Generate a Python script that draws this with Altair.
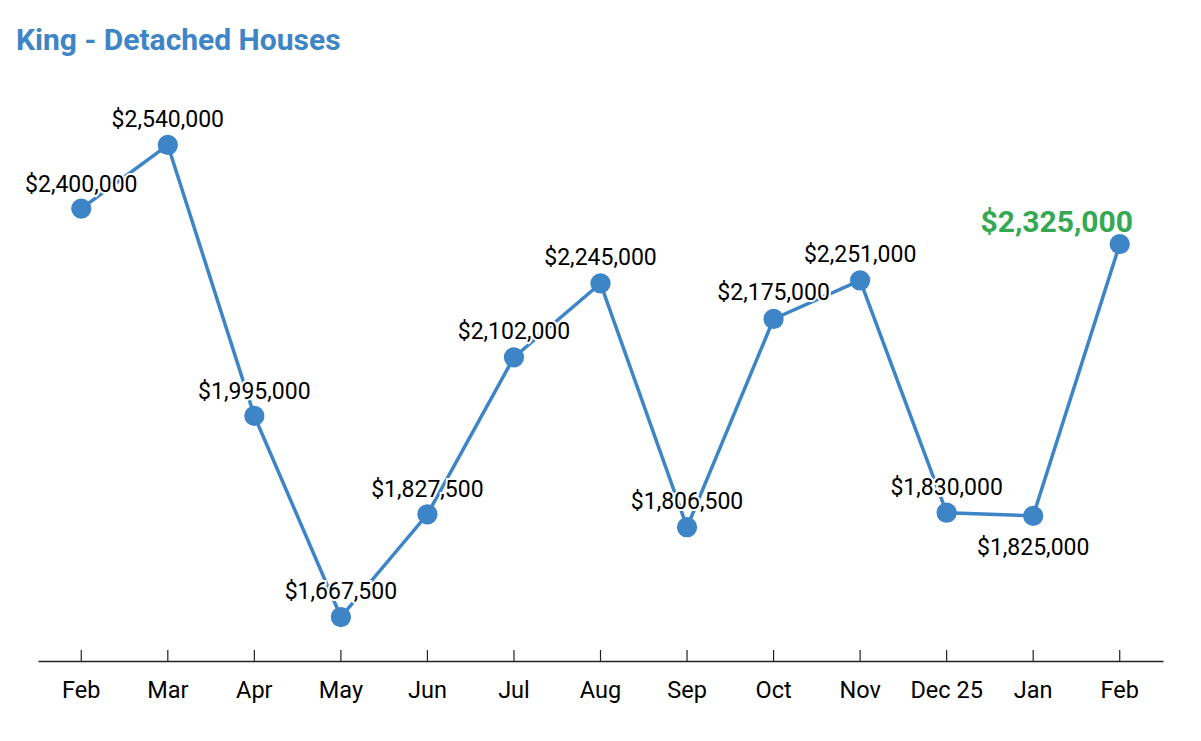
import altair as alt
import pandas as pd

months = ["Feb", "Mar", "Apr", "May", "Jun", "Jul", "Aug", "Sep", "Oct", "Nov", "Dec 25", "Jan", "Feb"]
prices = [2400000, 2540000, 1995000, 1667500, 1827500, 2102000, 2245000, 1806500, 2175000, 2251000, 1830000, 1825000, 2325000]
label_dy = [-24, -25, -24, -25, -24, -25, -25, -25, -26, -25, -25, 32, -21]
label_dx = [0, 0, 0, 0, 0, 0, 0, 0, 0, 0, 0, 0, -63]

BLUE = "#3d85c6"
GREEN = "#34a853"
FONT = "Roboto"
W, H = 1125, 581
Y_DOMAIN = [1603400, 2691500]

df = pd.DataFrame({
    "idx": list(range(len(months))),
    "month": months,
    "price": prices,
    "label": ["${:,}".format(p) for p in prices],
})

label_arr = "[" + ",".join("'" + m + "'" for m in months) + "]"

x = alt.X("idx:O", scale=alt.Scale(paddingInner=0, paddingOuter=0),
          axis=alt.Axis(title=None, labelAngle=0, labelExpr=label_arr + "[datum.value]",
                        ticks=False, tickSize=0, labelPadding=17, labelFontSize=23.5,
                        labelFont=FONT, labelColor="#000", domainColor="#222", domainWidth=1.3,
                        grid=False))
y = alt.Y("price:Q", scale=alt.Scale(type="log", domain=Y_DOMAIN, nice=False, zero=False),
          axis=None)

base = alt.Chart(df)

ticks = base.mark_rule(color="#222", strokeWidth=1.2).encode(
    x=x, y=alt.value(H - 11), y2=alt.value(H))

line = base.mark_line(color=BLUE, strokeWidth=3.5).encode(x=x, y=y)
pts = base.mark_circle(color=BLUE, opacity=1, size=410).encode(x=x, y=y)

halo_layers = []
text_layers = []
for i in range(len(months) - 1):
    sub = base.transform_filter(f"datum.idx == {i}")
    halo_layers.append(sub.mark_text(fontSize=23, font=FONT, stroke="white", strokeWidth=4,
                                     fill="white", baseline="middle", dy=label_dy[i], dx=label_dx[i]
                                     ).encode(x=x, y=y, text="label:N"))
    text_layers.append(sub.mark_text(fontSize=23, font=FONT, color="#000", baseline="middle",
                                     dy=label_dy[i], dx=label_dx[i]
                                     ).encode(x=x, y=y, text="label:N"))
last_i = len(months) - 1
last = base.transform_filter(f"datum.idx == {last_i}").mark_text(
    fontSize=30, font=FONT, fontWeight="bold", color=GREEN, baseline="middle",
    dy=label_dy[last_i], dx=label_dx[last_i]).encode(x=x, y=y, text="label:N")

chart = alt.layer(ticks, line, *halo_layers, pts, *text_layers, last).properties(
    width=W, height=H,
    background="white",
    title=alt.TitleParams("King - Detached Houses", anchor="start", color=BLUE, font=FONT,
                          fontSize=30, fontWeight="bold", dx=-9, offset=24),
    autosize=alt.AutoSizeParams(type="none"),
    padding={"left": 30, "top": 72, "right": 20, "bottom": 60},
).configure_view(strokeWidth=0, strokeOpacity=0)

chart.save("out.html", embed_options={"renderer": "svg", "actions": False})
